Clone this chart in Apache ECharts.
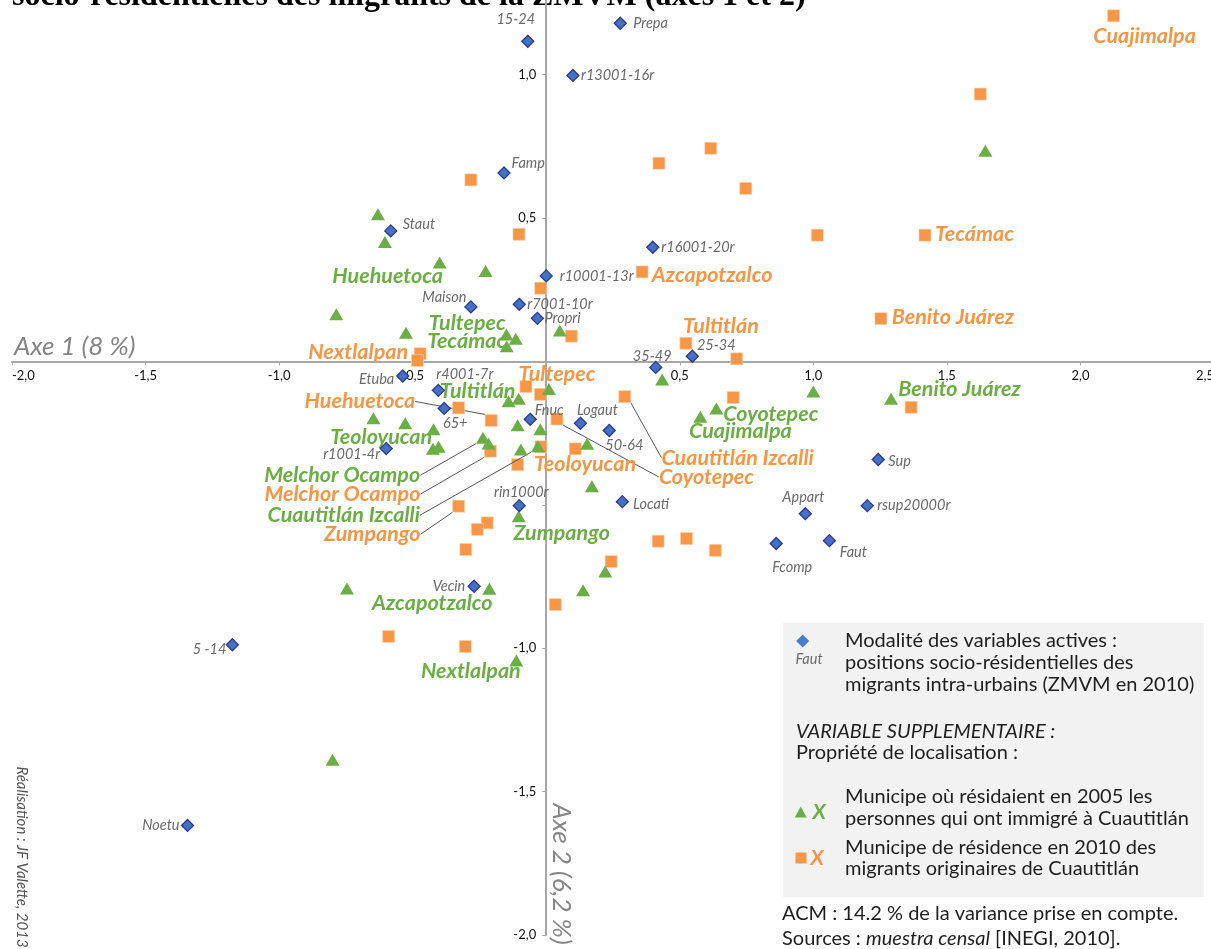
<!DOCTYPE html>
<html><head><meta charset="utf-8">
<script src="https://cdn.jsdelivr.net/npm/echarts@6/dist/echarts.min.js"></script>
<style>html,body{margin:0;padding:0;background:#fff}#c{width:1211px;height:949px}</style>
</head><body><div id="c"></div>
<script>
// ---------------- DATA ----------------
const blueNames = ['15-24','Prepa','r13001-16r','Famp','Staut','r16001-20r','r10001-13r','Maison','r7001-10r','Propri','35-49','25-34','Etuba','r4001-7r','65+','Fnuc','Logaut','50-64','r1001-4r','Sup','rin1000r','Locati','Appart','rsup20000r','Fcomp','Faut','Vecin','5 -14','Noetu'];
const blueX = [-0.069,0.277,0.100,-0.158,-0.582,0.399,0.000,-0.282,-0.101,-0.033,0.410,0.547,-0.537,-0.404,-0.382,-0.060,0.128,0.236,-0.599,1.243,-0.101,0.285,0.970,1.202,0.861,1.060,-0.270,-1.175,-1.343];
const blueY = [1.116,1.179,0.997,0.657,0.455,0.398,0.298,0.190,0.199,0.150,-0.021,0.018,-0.051,-0.101,-0.164,-0.202,-0.216,-0.241,-0.304,-0.342,-0.503,-0.489,-0.531,-0.503,-0.635,-0.625,-0.784,-0.988,-1.618];

const greenX = [1.644,-0.630,-0.604,-0.399,-0.227,-0.786,-0.525,-0.149,-0.114,-0.148,0.051,0.010,0.434,1.000,1.291,0.637,0.577,-0.141,-0.103,-0.647,-0.528,-0.422,-0.237,-0.216,-0.424,-0.403,-0.107,-0.022,-0.095,-0.031,0.153,0.171,-0.103,0.221,0.138,-0.746,-0.213,-0.112,-0.800];
const greenY = [0.734,0.513,0.416,0.345,0.315,0.164,0.100,0.094,0.079,0.053,0.108,-0.096,-0.063,-0.105,-0.130,-0.164,-0.193,-0.139,-0.130,-0.198,-0.216,-0.237,-0.266,-0.286,-0.305,-0.298,-0.223,-0.237,-0.307,-0.296,-0.287,-0.435,-0.540,-0.733,-0.798,-0.792,-0.793,-1.043,-1.389];
const greenLabels = ['','','','Huehuetoca','','','','','Tultepec','Tecámac','','','','','Benito Juárez','Coyotepec','Cuajimalpa','Tultitlán','','','Teoloyucan','','Melchor Ocampo','','','','','','','Cuautitlán Izcalli','','','Zumpango','','','','Azcapotzalco','Nextlalpan',''];

const orangeX = [2.124,1.625,0.616,0.422,0.747,-0.282,-0.102,1.015,1.418,0.359,-0.021,0.094,1.253,0.523,0.713,-0.472,-0.482,-0.076,-0.022,0.294,0.700,1.366,-0.328,-0.206,0.040,-0.209,-0.020,0.109,-0.107,-0.328,-0.221,-0.258,-0.301,0.419,0.525,0.633,0.243,0.034,-0.590,-0.303];
const orangeY = [1.205,0.932,0.743,0.691,0.603,0.633,0.443,0.440,0.440,0.312,0.255,0.088,0.149,0.063,0.009,0.027,0.003,-0.088,-0.115,-0.123,-0.126,-0.160,-0.162,-0.206,-0.201,-0.313,-0.298,-0.305,-0.360,-0.505,-0.563,-0.586,-0.656,-0.627,-0.618,-0.659,-0.698,-0.848,-0.959,-0.994];
const orangeLabels = ['Cuajimalpa','','','','','','','','Tecámac','Azcapotzalco','','','Benito Juárez','Tultitlán','','Nextlalpan','','Tultepec','','Cuautitlán Izcalli','','','','Huehuetoca','Coyotepec','Melchor Ocampo','','Teoloyucan','','Zumpango','','','','','','','','','',''];

const axisMinX = -2, axisMaxX = 2.5, axisMinY = -2, axisMaxY = 1.26, tickStep = 0.5;

// ---------------- STYLE / LABEL PLACEMENT ----------------
const BLUE = '#4570c4', BLUE_EDGE = '#2b3a8f', GREEN = '#6aae45', ORANGE = '#f79646';
const FONT = 'Lato';
const GRID = { left: 12, top: 0, width: 1202, height: 935 };
// [dx, dy, align, leader]
const blueLayout = {
  '15-24':[-12,-21.6,'center'],'Prepa':[13,0,'left'],'r13001-16r':[8,0,'left'],'Famp':[7.5,-10,'left'],
  'Staut':[12,-7,'left'],'r16001-20r':[8.5,0,'left'],'r10001-13r':[13.5,0,'left'],'Maison':[-4.5,-9.5,'right'],
  'r7001-10r':[8,0,'left'],'Propri':[7,0,'left'],'35-49':[-3.5,-11.3,'center'],'25-34':[4.6,-11,'left'],
  'Etuba':[-8.5,3,'right'],'r4001-7r':[-2,-16,'left'],'65+':[11,15,'center'],'Fnuc':[19,-9,'center'],
  'Logaut':[17,-13,'center'],'50-64':[15,15,'center'],'r1001-4r':[-6,6,'right'],'Sup':[10,2,'left'],
  'rin1000r':[2,-13,'center'],'Locati':[10.7,3,'left'],'Appart':[-2,-16,'center'],'rsup20000r':[10,0,'left'],
  'Fcomp':[16,24,'center'],'Faut':[24,12,'center'],'Vecin':[-8.8,0,'right'],'5 -14':[-6,5,'right'],'Noetu':[-8,0,'right']
};
const greenLayout = {
  'Huehuetoca':[-52,14,'center'],'Tultepec':[-48.5,-16,'center'],'Tecámac':[-40,-5,'center'],
  'Tultitlán':[-31,-10,'center'],'Teoloyucan':[-24,14,'center'],'Melchor Ocampo':[-62.7,37.7,'right',true],
  'Cuautitlán Izcalli':[-118,69,'right',true],'Zumpango':[43,17,'center'],'Coyotepec':[54.5,6,'center'],
  'Cuajimalpa':[40,14,'center'],'Benito Juárez':[68.5,-10,'center'],'Azcapotzalco':[-57,14,'center'],
  'Nextlalpan':[-45.5,11,'center']
};
const orangeLayout = {
  'Cuajimalpa':[31,20.6,'center'],'Tecámac':[49.5,-1,'center'],'Azcapotzalco':[70,3,'center'],
  'Benito Juárez':[72,-2,'center'],'Tultitlán':[35,-17,'center'],'Nextlalpan':[-62,-2,'center'],
  'Tultepec':[31,-13,'center'],'Huehuetoca':[-76,-19,'right',true],'Melchor Ocampo':[-70,43,'right',true],
  'Teoloyucan':[9.7,15.7,'center'],'Zumpango':[-38,28,'right',true],'Cuautitlán Izcalli':[36.7,61,'left',true],
  'Coyotepec':[102,58,'left',true]
};

function buildData(xs, ys, names, layout) {
  return xs.map((x, i) => {
    const n = names[i];
    const item = { name: n, value: [x, ys[i]] };
    if (!n) item.label = { show: false };
    else if (layout[n] && layout[n][3]) item.labelLine = { show: true };
    return item;
  });
}
function makeLayout(names, layout) {
  return function (p) {
    const t = layout[names[p.dataIndex]];
    if (!t) return {};
    return { dx: t[0], dy: t[1], align: t[2], verticalAlign: 'middle' };
  };
}
const fmt = v => (Math.abs(v) < 1e-9 ? '' : v.toFixed(1).replace('.', ','));
// axes cross at the origin: shift each axis from the grid edge to the zero of the other axis
const xAxisOffset = -GRID.height * (0 - axisMinY) / (axisMaxY - axisMinY);
const yAxisOffset = -GRID.width * (0 - axisMinX) / (axisMaxX - axisMinX);

const chart = echarts.init(document.getElementById('c'), null, { renderer: 'canvas' });
const txt = (x, y, text, font, fill, align, extra) => Object.assign({
  type: 'text', x: x, y: y, silent: true,
  style: { text: text, font: font, fill: fill, align: align || 'left', textAlign: align || 'left', verticalAlign: 'middle', textVerticalAlign: 'middle' }
}, extra || {});
const LEG = '#1e1e1e';
const LF = '20px ' + FONT;
const TITLE = 'socio-résidentielles des migrants de la ZMVM (axes 1 et 2)';

chart.setOption({
  animation: false,
  backgroundColor: '#fff',
  grid: Object.assign({ containLabel: false, outerBoundsMode: 'none' }, GRID),
  xAxis: {
    type: 'value', min: axisMinX, max: axisMaxX, interval: tickStep, position: 'bottom', offset: xAxisOffset,
    axisLine: { onZero: false, lineStyle: { color: '#a8a8a8', width: 2 } },
    axisTick: { show: true, length: 4, lineStyle: { color: '#a8a8a8', width: 1 } },
    axisLabel: { margin: 8, color: '#111', fontFamily: FONT, fontSize: 13, formatter: fmt, alignMinLabel: 'left', alignMaxLabel: 'right' },
    splitLine: { show: false }
  },
  yAxis: {
    type: 'value', min: axisMinY, max: axisMaxY, interval: tickStep, position: 'left', offset: yAxisOffset,
    axisLine: { onZero: false, lineStyle: { color: '#a8a8a8', width: 2 } },
    axisTick: { show: true, length: 4, lineStyle: { color: '#a8a8a8', width: 1 } },
    axisLabel: { margin: 10, color: '#111', fontFamily: FONT, fontSize: 13, showMaxLabel: false,
      formatter: v => (Math.abs(v + 0.5) < 1e-9 ? '' : fmt(v)) },
    splitLine: { show: false }
  },
  series: [
    {
      type: 'scatter', name: 'orange', symbol: 'rect', symbolSize: 12,
      itemStyle: { color: ORANGE, borderColor: '#fbd2b0', borderWidth: 0.6, opacity: 1 },
      data: buildData(orangeX, orangeY, orangeLabels, orangeLayout),
      label: { show: true, position: ['50%', '50%'], formatter: '{b}', color: ORANGE, fontFamily: FONT, fontStyle: 'italic', fontWeight: 'bold', fontSize: 21.5, align: 'center', verticalAlign: 'middle' },
      labelLine: { show: false, lineStyle: { color: '#555', width: 1 } },
      labelLayout: makeLayout(orangeLabels, orangeLayout),
      z: 3
    },
    {
      type: 'scatter', name: 'green', symbol: 'triangle', symbolSize: [14, 12],
      itemStyle: { color: GREEN, opacity: 1 },
      data: buildData(greenX, greenY, greenLabels, greenLayout),
      label: { show: true, position: ['50%', '50%'], formatter: '{b}', color: GREEN, fontFamily: FONT, fontStyle: 'italic', fontWeight: 'bold', fontSize: 21.5, align: 'center', verticalAlign: 'middle' },
      labelLine: { show: false, lineStyle: { color: '#555', width: 1 } },
      labelLayout: makeLayout(greenLabels, greenLayout),
      z: 4
    },
    {
      type: 'scatter', name: 'blue', symbol: 'diamond', symbolSize: 12,
      itemStyle: { color: BLUE, borderColor: BLUE_EDGE, borderWidth: 1.3, opacity: 1 },
      data: buildData(blueX, blueY, blueNames, blueLayout),
      label: { show: true, position: ['50%', '50%'], formatter: '{b}', color: '#6a6a6a', fontFamily: FONT, fontStyle: 'italic', fontSize: 14.5, align: 'center', verticalAlign: 'middle' },
      labelLayout: makeLayout(blueNames, blueLayout),
      z: 5
    }
  ],
  graphic: [
    { type: 'text', silent: true, x: 12, y: 13,
      style: { text: TITLE, font: 'bold 32px "Liberation Serif"', fill: '#000', align: 'left', textAlign: 'left', verticalAlign: 'bottom', textVerticalAlign: 'bottom' } },
    txt(14, 347, 'Axe 1 (8 %)', 'italic 26px ' + FONT, '#858585', 'left'),
    txt(561, 874, 'Axe 2 (6,2 %)', 'italic 26px ' + FONT, '#858585', 'center', { rotation: -Math.PI / 2 }),
    txt(21.5, 857, 'Réalisation : JF Valette, 2013', 'italic 15px ' + FONT, '#555', 'center', { rotation: -Math.PI / 2 }),
    { type: 'rect', silent: true, shape: { x: 783, y: 623, width: 421, height: 274 }, style: { fill: '#f2f2f2' }, z: 1 },
    { type: 'polygon', silent: true, shape: { points: [[802.7, 634.5], [809.2, 641], [802.7, 647.5], [796.2, 641]] }, style: { fill: '#4a7bd3' }, z: 2 },
    txt(809, 659, 'Faut', 'italic 14.5px ' + FONT, '#6a6a6a', 'center', { z: 2 }),
    txt(845, 641, 'Modalité des variables actives :', LF, LEG, 'left', { z: 2 }),
    txt(845, 662.7, 'positions socio-résidentielles des', LF, LEG, 'left', { z: 2 }),
    txt(845, 684.3, 'migrants intra-urbains (ZMVM en 2010)', LF, LEG, 'left', { z: 2 }),
    txt(796, 731.7, 'VARIABLE SUPPLEMENTAIRE :', 'italic ' + LF, LEG, 'left', { z: 2 }),
    txt(796, 752.3, 'Propriété de localisation :', LF, LEG, 'left', { z: 2 }),
    { type: 'polygon', silent: true, shape: { points: [[800.7, 806.5], [806.7, 817.5], [794.7, 817.5]] }, style: { fill: GREEN }, z: 2 },
    txt(819, 812, 'X', 'italic bold 21px ' + FONT, GREEN, 'center', { z: 2 }),
    txt(845, 796.7, 'Municipe où résidaient en 2005 les', LF, LEG, 'left', { z: 2 }),
    txt(845, 818.3, 'personnes qui ont immigré à Cuautitlán', LF, LEG, 'left', { z: 2 }),
    { type: 'rect', silent: true, shape: { x: 795.5, y: 852.5, width: 11, height: 11 }, style: { fill: ORANGE }, z: 2 },
    txt(817, 858, 'X', 'italic bold 21px ' + FONT, ORANGE, 'center', { z: 2 }),
    txt(845, 847.3, 'Municipe de résidence en 2010 des', LF, LEG, 'left', { z: 2 }),
    txt(845, 869, 'migrants originaires de Cuautitlán', LF, LEG, 'left', { z: 2 }),
    txt(782, 913.3, 'ACM : 14.2 % de la variance prise en compte.', LF, LEG, 'left', { z: 2 }),
    { type: 'text', silent: true, x: 782, y: 938.3, z: 2,
      style: { text: '{n|Sources : }{i|muestra censal}{n| [INEGI, 2010].}', align: 'left', textAlign: 'left', verticalAlign: 'middle', textVerticalAlign: 'middle',
        rich: { n: { font: LF, fill: LEG, color: LEG }, i: { font: 'italic ' + LF, fill: LEG, color: LEG } } } }
  ]
});
</script>
</body></html>
